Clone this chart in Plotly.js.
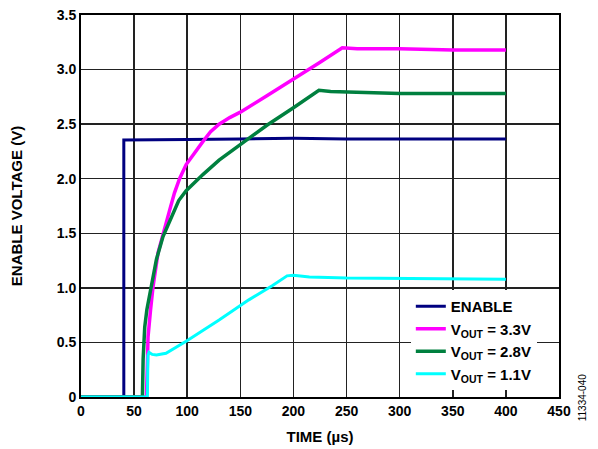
<!DOCTYPE html>
<html>
<head>
<meta charset="utf-8">
<script src="https://cdn.plot.ly/plotly-3.0.1.min.js"></script>
<style>html,body{margin:0;padding:0;background:#fff;}#chart{width:598px;height:449px;}</style>
</head>
<body>
<div id="chart"></div>
<script>
// ENABLE trace
const enableT = [0, 40.3, 40.3, 60, 100, 150, 200, 250, 300, 350, 400];
const enableV = [0, 0, 2.355, 2.355, 2.36, 2.365, 2.37, 2.365, 2.365, 2.365, 2.365];
// VOUT = 3.3V
const v33T = [0, 61.6, 62.5, 63.1, 65.5, 67.8, 72.5, 77.2, 83.4, 88, 92.8, 99, 108.4, 114.7, 122, 130, 140, 150, 175, 200, 224, 246, 260, 300, 350, 400];
const v33V = [0, 0, 0.3, 0.55, 0.8, 1.01, 1.32, 1.5, 1.71, 1.87, 2.0, 2.13, 2.26, 2.34, 2.43, 2.5, 2.56, 2.61, 2.76, 2.91, 3.06, 3.2, 3.19, 3.19, 3.18, 3.18];
// VOUT = 2.8V
const v28T = [0, 57.8, 58.5, 60, 62, 64.7, 71, 77.2, 86.6, 92, 99, 107, 115, 130, 152, 175, 200, 224, 235, 260, 300, 350, 400];
const v28V = [0, 0, 0.35, 0.64, 0.8, 0.95, 1.26, 1.47, 1.68, 1.8, 1.89, 1.97, 2.04, 2.17, 2.33, 2.49, 2.65, 2.81, 2.8, 2.79, 2.78, 2.78, 2.78];
// VOUT = 1.1V
const v11T = [0, 62.5, 63, 64, 67, 71, 80, 99, 130, 158, 180, 194, 200, 215, 250, 300, 350, 400];
const v11V = [0, 0, 0.38, 0.41, 0.39, 0.385, 0.4, 0.51, 0.705, 0.89, 1.02, 1.11, 1.115, 1.1, 1.09, 1.085, 1.08, 1.08];

const xTicks = [0, 50, 100, 150, 200, 250, 300, 350, 400, 450];
const yTicks = [0, 0.5, 1.0, 1.5, 2.0, 2.5, 3.0, 3.5];
const yTickText = ['0', '0.5', '1.0', '1.5', '2.0', '2.5', '3.0', '3.5'];
const names = ['ENABLE', 'V<sub>OUT</sub> = 3.3V', 'V<sub>OUT</sub> = 2.8V', 'V<sub>OUT</sub> = 1.1V'];

const F = 'Liberation Sans, Arial, sans-serif';
const traces = [
  {x: enableT, y: enableV, name: names[0], mode: 'lines', line: {color: '#000080', width: 3}},
  {x: v33T, y: v33V, name: names[1], mode: 'lines', line: {color: '#ff00ff', width: 3.5}},
  {x: v28T, y: v28V, name: names[2], mode: 'lines', line: {color: '#00803f', width: 3.5}},
  {x: v11T, y: v11V, name: names[3], mode: 'lines', line: {color: '#00ffff', width: 3}}
];
const axisCommon = {
  showline: true, mirror: true, linecolor: '#000', linewidth: 2,
  showgrid: true, gridcolor: '#222', gridwidth: 1.5, zeroline: false,
  ticks: '', tickfont: {family: F, size: 14, weight: 'bold', color: '#000'}
};
const layout = {
  width: 598, height: 449,
  margin: {l: 81, r: 39, t: 15, b: 52},
  paper_bgcolor: '#fff', plot_bgcolor: '#fff',
  showlegend: true,
  legend: {x: 0.69, y: 0.28, xanchor: 'left', yanchor: 'top', bgcolor: '#fff',
           font: {family: F, size: 15, weight: 'bold', color: '#000'}, tracegroupgap: 0},
  xaxis: Object.assign({}, axisCommon, {range: [0, 450], tickvals: xTicks, ticktext: xTicks.map(String),
           title: {text: 'TIME (µs)', font: {family: F, size: 15, weight: 'bold', color: '#000'}, standoff: 14}}),
  yaxis: Object.assign({}, axisCommon, {range: [0, 3.5], tickvals: yTicks, ticktext: yTickText,
           title: {text: 'ENABLE VOLTAGE (V)', font: {family: F, size: 15, weight: 'bold', color: '#000'}, standoff: 30}}),
  annotations: [{text: '11334-040', xref: 'paper', yref: 'paper', x: 1.065, y: -0.07, textangle: -90,
                 showarrow: false, font: {family: F, size: 10, color: '#000'}}]
};
Plotly.newPlot('chart', traces, layout, {staticPlot: true, displayModeBar: false});
</script>
</body>
</html>
